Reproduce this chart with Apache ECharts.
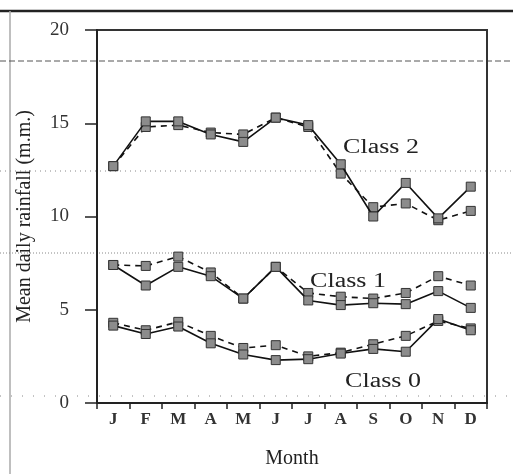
<!DOCTYPE html>
<html>
<head>
<meta charset="utf-8">
<script src="https://cdn.jsdelivr.net/npm/echarts@6/dist/echarts.min.js"></script>
<style>html,body{margin:0;padding:0;background:#fff}#c{width:513px;height:474px}</style>
</head>
<body>
<div id="c"></div>
<script>
var months = ['Jan','Feb','Mar','Apr','May','Jun','Jul','Aug','Sep','Oct','Nov','Dec'];
var yTicks = [0, 5, 10, 15, 20];
var class2Solid  = [12.7, 15.1, 15.1, 14.4, 14.0, 15.3, 14.9, 12.8, 10.0, 11.8, 9.9, 11.6];
var class2Dashed = [12.7, 14.8, 14.9, 14.5, 14.4, 15.3, 14.8, 12.3, 10.5, 10.7, 9.8, 10.3];
var class1Solid  = [7.4, 6.3, 7.3, 6.8, 5.6, 7.3, 5.5, 5.25, 5.35, 5.3, 6.0, 5.1];
var class1Dashed = [7.4, 7.35, 7.85, 7.0, 5.6, 7.3, 5.9, 5.7, 5.6, 5.9, 6.8, 6.3];
var class0Solid  = [4.15, 3.7, 4.1, 3.2, 2.6, 2.3, 2.35, 2.65, 2.9, 2.75, 4.5, 3.9];
var class0Dashed = [4.3, 3.9, 4.35, 3.6, 2.95, 3.1, 2.5, 2.7, 3.15, 3.6, 4.4, 4.0];
var classLabels = ['Class 2', 'Class 1', 'Class 0'];

var serif = 'Liberation Serif';
var chart = echarts.init(document.getElementById('c'), null, {renderer: 'canvas'});

function mk(name, data, dashed) {
  return {
    name: name, type: 'line', data: data, symbol: 'rect', symbolSize: 9,
    lineStyle: {color: '#111', width: 1.6, type: dashed ? [6, 5] : 'solid'},
    itemStyle: {color: '#8c8c8c', borderColor: '#333', borderWidth: 1},
    z: dashed ? 3 : 4, animation: false
  };
}

function hline(y, dash, color, w) {
  return {type: 'line', shape: {x1: 0, y1: y, x2: 513, y2: y}, silent: true, z: -1,
    style: {stroke: color, lineWidth: w, lineDash: dash}};
}

var option = {
  backgroundColor: '#fff',
  animation: false,
  grid: {left: 97, right: 26, top: 30, bottom: 62, show: true, borderColor: '#333', borderWidth: 2, backgroundColor: 'transparent'},
  xAxis: {
    type: 'category', data: months, boundaryGap: true,
    name: 'Month', nameLocation: 'middle', nameGap: 46,
    nameTextStyle: {fontFamily: serif, fontSize: 20, color: '#222'},
    axisLine: {lineStyle: {color: '#222', width: 2}},
    axisTick: {show: true, length: 6, lineStyle: {color: '#222', width: 1.5}},
    axisLabel: {fontFamily: serif, fontSize: 17, fontWeight: 'bold', color: '#333', margin: 8, formatter: function (v) { return v.charAt(0); }}
  },
  yAxis: {
    type: 'value', min: yTicks[0], max: yTicks[yTicks.length - 1], interval: 5,
    name: 'Mean daily rainfall (m.m.)', nameLocation: 'middle', nameGap: 62,
    nameTextStyle: {fontFamily: serif, fontSize: 20, color: '#222'},
    axisLine: {show: true, lineStyle: {color: '#222', width: 2}},
    axisTick: {show: true, length: 12, lineStyle: {color: '#222', width: 1.5}},
    axisLabel: {fontFamily: serif, fontSize: 19, color: '#333', margin: 28},
    splitLine: {show: false}
  },
  graphic: [
    hline(11, null, '#222', 2.5),
    {type: 'line', shape: {x1: 10, y1: 11, x2: 10, y2: 474}, silent: true, z: -1, style: {stroke: '#aaa', lineWidth: 1.5}},
    hline(61, [6, 3], '#555', 1),
    hline(171, [1, 4], '#888', 1),
    hline(253, [1, 2], '#888', 1),
    hline(396, [1, 10], '#888', 1),
    {type: 'text', x: 381, y: 148, scaleX: 1.3, z: 10,
      style: {text: classLabels[0], fontFamily: serif, fontSize: 20, fill: '#222', align: 'center', verticalAlign: 'middle'}},
    {type: 'text', x: 348, y: 282, scaleX: 1.3, z: 10,
      style: {text: classLabels[1], fontFamily: serif, fontSize: 20, fill: '#222', align: 'center', verticalAlign: 'middle'}},
    {type: 'text', x: 383, y: 382, scaleX: 1.3, z: 10,
      style: {text: classLabels[2], fontFamily: serif, fontSize: 20, fill: '#222', align: 'center', verticalAlign: 'middle'}}
  ],
  series: [
    mk('Class 2 a', class2Solid, false),
    mk('Class 2 b', class2Dashed, true),
    mk('Class 1 a', class1Solid, false),
    mk('Class 1 b', class1Dashed, true),
    mk('Class 0 a', class0Solid, false),
    mk('Class 0 b', class0Dashed, true)
  ]
};
chart.setOption(option);
</script>
</body>
</html>
